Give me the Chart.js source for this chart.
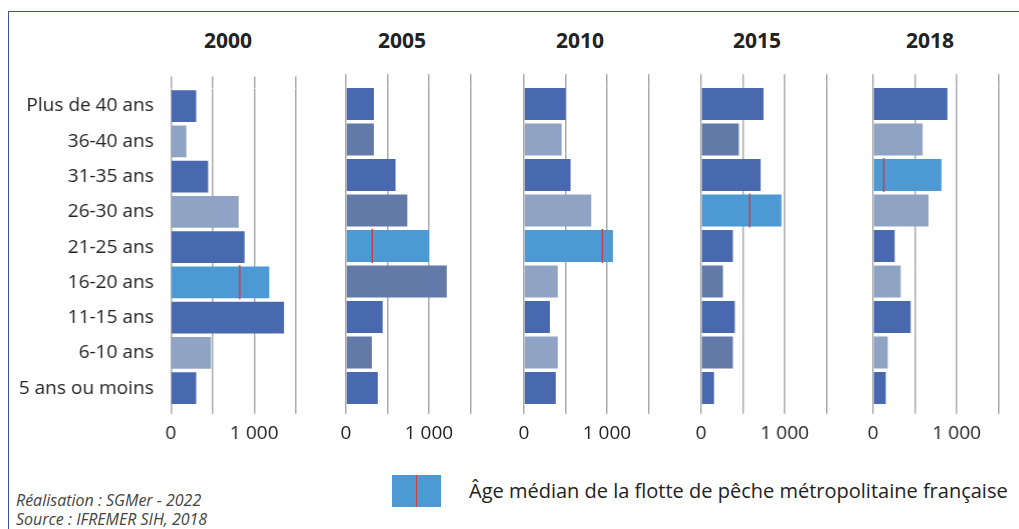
<!DOCTYPE html>
<html>
<head>
<meta charset="utf-8">
<script src="https://cdn.jsdelivr.net/npm/chart.js@4.4.0/dist/chart.umd.min.js"></script>
<style>
  body { margin: 0; width: 1019px; height: 529px; background: #fff; position: relative; overflow: hidden; font-family: 'Open Sans', sans-serif; color: #222; }
  .frame { position: absolute; left: 8px; top: 11px; right: -2px; bottom: -2px; border-top: 1.5px solid #3b4fa3; border-left: 1.5px solid #3b4fa3; }
  .panel { position: absolute; top: 60px; height: 399px; }
  .year { position: absolute; top: 25px; font-weight: bold; font-size: 21px; line-height: 30px; transform: translateX(-50%); }
  .legend-box { position: absolute; left: 392px; top: 475px; width: 49px; height: 32px; background: #4d99d3; }
  .legend-box::after { content: ''; position: absolute; left: 23.5px; top: 0; width: 1.5px; height: 32px; background: #c8404a; }
  .legend-text { position: absolute; left: 469px; top: 477px; font-size: 20px; line-height: 28px; }
  .source { position: absolute; left: 16px; top: 491px; font-size: 16px; font-style: italic; color: #444; line-height: 19px; }
</style>
</head>
<body>
<div class="frame"></div>
<div id="panels"></div>
<div class="legend-box"></div>
<div class="legend-text">Âge médian de la flotte de pêche métropolitaine française</div>
<div class="source">Réalisation : SGMer - 2022<br>Source : IFREMER SIH, 2018</div>
<script>
const categories = ['Plus de 40 ans', '36-40 ans', '31-35 ans', '26-30 ans', '21-25 ans', '16-20 ans', '11-15 ans', '6-10 ans', '5 ans ou moins'];
const years = ['2000', '2005', '2010', '2015', '2018'];

const values2000 = [304, 186, 447, 814, 885, 1181, 1359, 482, 304];
const values2005 = [336, 336, 597, 739, 1000, 1214, 442, 312, 383];
const values2010 = [502, 454, 561, 810, 1071, 407, 312, 407, 383];
const values2015 = [747, 451, 712, 961, 380, 261, 403, 380, 154];
const values2018 = [889, 592, 818, 663, 258, 330, 449, 175, 151];

// median age class and median position (number of vessels) per year
const medianClass = ['16-20 ans', '21-25 ans', '21-25 ans', '26-30 ans', '31-35 ans'];
const medianValue = [826, 316, 944, 581, 127];

const xTicks = [0, 500, 1000, 1500];
const xLabels = ['0', '', '1 000', ''];

const allValues = [values2000, values2005, values2010, values2015, values2018];

// layout / colours
const zeroX = [170.3, 345.7, 523.7, 701, 873.3];
const titleX = [228, 402, 580, 757, 930];
const plotW = 126.5;
const DARK = '#4868b0', BRIGHT = '#4d99d3', RED = '#c8404a';
const altColor = ['#8fa4c4', '#637aa8', '#8fa4c4', '#637aa8', '#8fa4c4'];
const gridColor = '#aaaaaa';
const font = "'Open Sans', sans-serif";

function barColors(i) {
    return categories.map((c, k) => c === medianClass[i] ? BRIGHT : (k % 2 === 0 ? DARK : altColor[i]));
}

function renderPanel(i) {
    const first = i === 0;
    const padLeft = first ? 10 : 20;
    const yWidth = first ? zeroX[0] - 10 : 0;
    const left = first ? 0 : zeroX[i] - padLeft;
    const width = padLeft + yWidth + plotW + 6;

    const wrap = document.createElement('div');
    wrap.className = 'panel';
    wrap.style.left = left + 'px';
    wrap.style.width = width + 'px';
    const cv = document.createElement('canvas');
    wrap.appendChild(cv);
    document.getElementById('panels').appendChild(wrap);

    const t = document.createElement('div');
    t.className = 'year';
    t.style.left = titleX[i] + 'px';
    t.textContent = years[i];
    document.body.appendChild(t);

    new Chart(cv.getContext('2d'), {
        type: 'bar',
        data: {
            labels: categories,
            datasets: [{
                data: allValues[i],
                backgroundColor: barColors(i),
                barPercentage: 0.9,
                categoryPercentage: 1,
                order: 2
            }, {
                type: 'line',
                data: [{ x: medianValue[i], y: medianClass[i] }],
                showLine: false,
                pointStyle: 'line',
                rotation: 90,
                pointRadius: 17,
                pointHoverRadius: 17,
                borderColor: RED,
                pointBorderColor: RED,
                pointBorderWidth: 1.5,
                order: 1
            }]
        },
        options: {
            indexAxis: 'y',
            responsive: true,
            maintainAspectRatio: false,
            animation: false,
            events: [],
            layout: { autoPadding: false, padding: { left: padLeft, right: 6, top: 14.2, bottom: 6.4 } },
            plugins: { legend: { display: false }, tooltip: { enabled: false } },
            scales: {
                x: {
                    min: 0, max: 1500,
                    afterBuildTicks: s => { s.ticks = xTicks.map(v => ({ value: v })); },
                    ticks: {
                        callback: (v, k) => xLabels[k],
                        color: '#222', padding: 8, maxRotation: 0, autoSkip: false,
                        font: { family: font, size: 19 }
                    },
                    grid: { color: gridColor, lineWidth: 1.5, tickLength: 8 },
                    border: { display: false }
                },
                xTop: {
                    position: 'top',
                    min: 0, max: 1500,
                    afterBuildTicks: s => { s.ticks = xTicks.map(v => ({ value: v })); },
                    ticks: { display: false },
                    grid: { color: gridColor, lineWidth: 1.5, tickLength: 12, drawOnChartArea: false },
                    border: { display: false }
                },
                y: {
                    display: first,
                    afterFit: s => { s.width = yWidth; },
                    ticks: { color: '#222', padding: 17, font: { family: font, size: 19 } },
                    grid: { display: false, drawTicks: false },
                    border: { display: false }
                }
            }
        }
    });
}

years.forEach((y, i) => renderPanel(i));
</script>
</body>
</html>
